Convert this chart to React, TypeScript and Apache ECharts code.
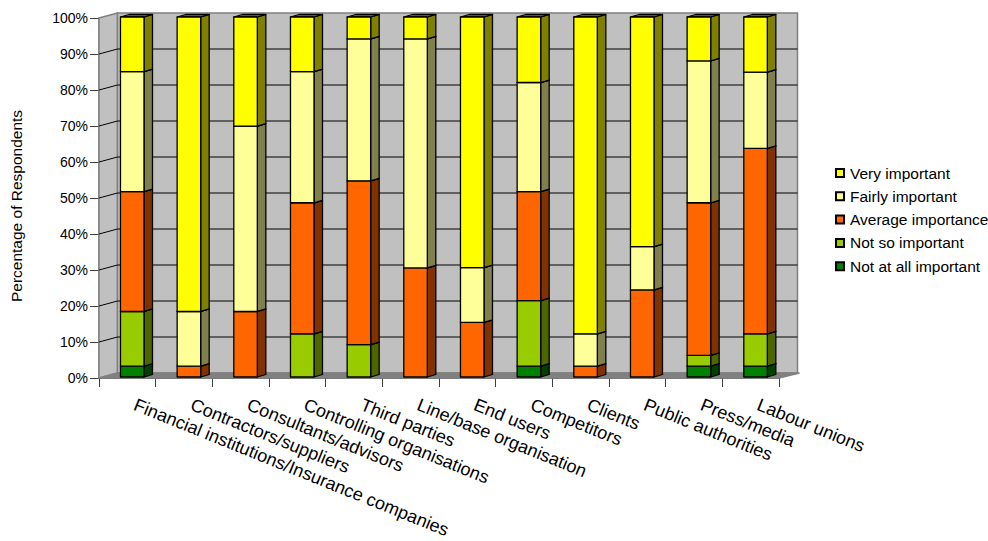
import React, { useEffect, useRef } from "react";
import * as echarts from "echarts";

const categories = [
  "Financial institutions/Insurance companies",
  "Contractors/suppliers",
  "Consultants/advisors",
  "Controlling organisations",
  "Third parties",
  "Line/base organisation",
  "End users",
  "Competitors",
  "Clients",
  "Public authorities",
  "Press/media",
  "Labour unions",
];

const notAtAll = [3, 0, 0, 0, 0, 0, 0, 3, 0, 0, 3, 3];
const notSo = [15.2, 0, 0, 12, 9, 0, 0, 18.2, 0, 0, 3, 9];
const average = [33.3, 3, 18.2, 36.4, 45.5, 30.3, 15.2, 30.3, 3, 24.2, 42.4, 51.5];
const fairly = [33.3, 15.2, 51.5, 36.4, 39.4, 63.6, 15.2, 30.3, 9, 12, 39.4, 21.2];
const very = [15.2, 81.8, 30.3, 15.2, 6.1, 6.1, 69.6, 18.2, 88, 63.8, 12.2, 15.3];

const yTicks = [0, 10, 20, 30, 40, 50, 60, 70, 80, 90, 100];

const layers = [
  { name: "Not at all important", values: notAtAll, face: "#008000", side: "#004000" },
  { name: "Not so important", values: notSo, face: "#99CC00", side: "#4D6600" },
  { name: "Average importance", values: average, face: "#FF6600", side: "#803300" },
  { name: "Fairly important", values: fairly, face: "#FFFF99", side: "#80804D" },
  { name: "Very important", values: very, face: "#FFFF00", side: "#808000" },
];

const legendOrder = ["Very important", "Fairly important", "Average importance", "Not so important", "Not at all important"];

const FONT = "Liberation Sans";
const WALL_DX = 18.5;
const WALL_DY = 5;
const BAR_DX = 8.5;
const BAR_DY = 2.5;
const BAR_SHIFT_X = 4.9;
const BAR_SHIFT_Y = -1;

// Side wall, back wall and floor, then one grid line per tick running along both walls.
function renderWall(params: any, api: any) {
  const c = params.coordSys;
  const left = c.x;
  const right = c.x + c.width;
  const top = c.y;
  const bottom = c.y + c.height;
  const children: any[] = [];
  if (params.dataIndex === 0) {
    const edge = { stroke: "#808080", lineWidth: 1.5 };
    children.push(
      {
        type: "polygon",
        shape: { points: [[left, top], [left + WALL_DX, top - WALL_DY], [left + WALL_DX, bottom - WALL_DY], [left, bottom]] },
        style: { fill: "#C0C0C0", ...edge },
      },
      {
        type: "rect",
        shape: { x: left + WALL_DX, y: top - WALL_DY, width: c.width, height: c.height },
        style: { fill: "#C0C0C0", ...edge },
      },
      {
        type: "polygon",
        shape: { points: [[left, bottom], [left + WALL_DX, bottom - WALL_DY], [right + WALL_DX + 2, bottom - WALL_DY], [right, bottom]] },
        style: { fill: "#808080", ...edge },
      }
    );
  }
  const v = api.value(0);
  if (v > 0 && v < 100) {
    const y = Math.round(api.coord([0, v])[1]);
    children.push({
      type: "polyline",
      shape: { points: [[left, y], [left + WALL_DX, y - WALL_DY], [right + WALL_DX, y - WALL_DY]] },
      style: { fill: "none", stroke: "#000", lineWidth: 1 },
    });
  }
  return { type: "group", children };
}

// One stacked segment as a box: front face, right side and top.
function renderBox(layer: { face: string; side: string }) {
  return (params: any, api: any) => {
    const from = api.value(1);
    const to = api.value(2);
    if (to <= from) return { type: "group", children: [] };
    const band = api.size([1, 0])[0];
    const w = band * 0.415;
    const p0 = api.coord([api.value(0), from]);
    const p1 = api.coord([api.value(0), to]);
    const x0 = p0[0] - w / 2 + BAR_SHIFT_X;
    const x1 = x0 + w;
    const yb = p0[1] + BAR_SHIFT_Y;
    const yt = p1[1] + BAR_SHIFT_Y;
    const line = { stroke: "#000", lineWidth: 1.3, lineJoin: "round" };
    return {
      type: "group",
      children: [
        {
          type: "polygon",
          shape: { points: [[x1, yb], [x1 + BAR_DX, yb - BAR_DY], [x1 + BAR_DX, yt - BAR_DY], [x1, yt]] },
          style: { fill: layer.side, ...line },
        },
        {
          type: "polygon",
          shape: { points: [[x0, yt], [x0 + BAR_DX, yt - BAR_DY], [x1 + BAR_DX, yt - BAR_DY], [x1, yt]] },
          style: { fill: layer.side, ...line },
        },
        {
          type: "rect",
          shape: { x: x0, y: yt, width: w, height: yb - yt },
          style: { fill: layer.face, ...line },
        },
      ],
    };
  };
}

function boxSeries() {
  const running = categories.map(() => 0);
  return layers.map((layer) => ({
    type: "custom",
    name: layer.name,
    z: 3,
    itemStyle: { color: layer.face, borderColor: "#000", borderWidth: 1.4 },
    encode: { x: 0, y: [1, 2] },
    renderItem: renderBox(layer),
    data: layer.values.map((v, i) => {
      const from = running[i];
      running[i] = from + v;
      return [i, from, running[i]];
    }),
  }));
}

export default function App() {
  const ref = useRef<HTMLDivElement>(null);

  useEffect(() => {
    const chart = echarts.init(ref.current, undefined, { renderer: "svg" });
    chart.setOption({
      animation: false,
      backgroundColor: "#fff",
      textStyle: { fontFamily: FONT },
      grid: { left: 99, right: 209, top: 18, bottom: 163 },
      legend: {
        orient: "vertical",
        left: 830,
        top: 160,
        icon: "rect",
        itemWidth: 8,
        itemHeight: 8,
        itemGap: 7.3,
        data: legendOrder,
        textStyle: { fontFamily: FONT, fontSize: 15.5, color: "#000", padding: [0, 0, 0, 1] },
      },
      xAxis: {
        type: "category",
        data: categories,
        boundaryGap: true,
        axisLine: { lineStyle: { color: "#404040", width: 1.5 } },
        axisTick: { show: true, length: 9, interval: 0, lineStyle: { color: "#404040" } },
        axisLabel: {
          interval: 0,
          rotate: -22,
          margin: 23,
          padding: [0, 0, 0, 8],
          fontFamily: FONT,
          fontSize: 18,
          color: "#000",
          hideOverlap: false,
        },
      },
      yAxis: {
        type: "value",
        min: 0,
        max: 100,
        interval: 10,
        name: "Percentage of Respondents",
        nameLocation: "middle",
        nameGap: 75,
        nameTextStyle: { fontFamily: FONT, fontSize: 15.5, color: "#000", padding: [0, 16, 0, 0] },
        axisLine: { show: true, lineStyle: { color: "#808080", width: 1.5 } },
        axisTick: { show: true, length: 9, lineStyle: { color: "#404040" } },
        axisLabel: { formatter: "{value}%", margin: 11, fontFamily: FONT, fontSize: 14, color: "#000" },
        splitLine: { show: false },
      },
      series: [
        {
          type: "custom",
          z: 1,
          silent: true,
          encode: { x: -1, y: 0 },
          renderItem: renderWall,
          data: yTicks.map((t) => [t]),
        },
        ...boxSeries(),
      ],
    });
    return () => chart.dispose();
  }, []);

  return <div ref={ref} style={{ position: "absolute", left: 0, top: 0, width: 988, height: 541 }} />;
}
